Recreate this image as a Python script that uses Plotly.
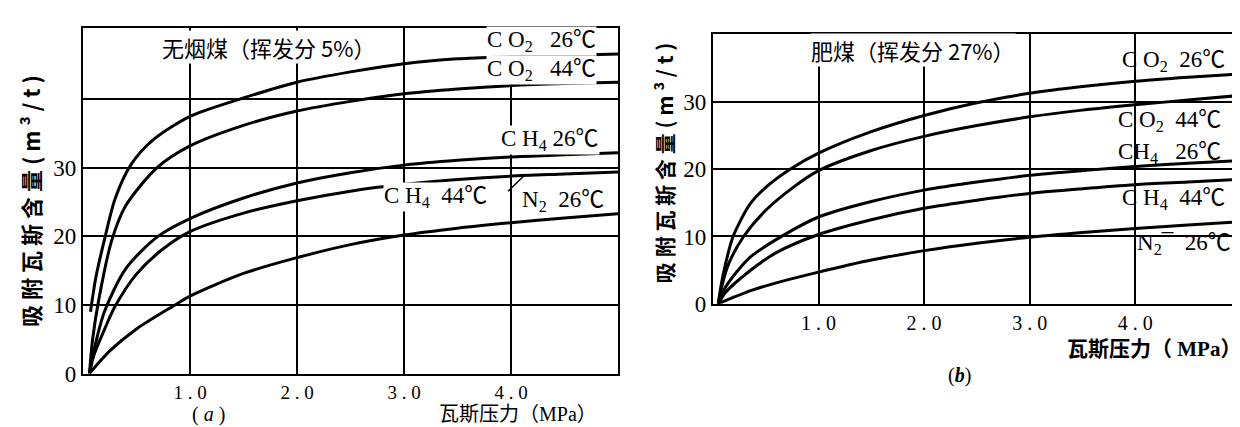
import plotly.graph_objects as go

W, H = 1240, 427

# ---------------- data: panel (a) 无烟煤 ----------------
a_co2_26_p = [0.07, 0.12, 0.2, 0.3, 0.45, 0.65, 1.0, 1.5, 2.0, 2.5, 3.0, 3.5, 4.0, 4.5, 5.0]
a_co2_26_v = [9.0, 14.0, 19.5, 25.5, 30.5, 34.0, 37.5, 40.2, 42.5, 44.0, 45.2, 45.9, 46.2, 46.4, 46.6]

a_co2_44_p = [0.06, 0.09, 0.15, 0.27, 0.4, 0.69, 1.0, 1.5, 2.0, 2.5, 3.0, 3.5, 4.0, 4.5, 5.0]
a_co2_44_v = [0.0, 5.0, 11.0, 19.5, 24.5, 30.0, 33.2, 36.2, 38.3, 39.7, 40.8, 41.5, 42.0, 42.3, 42.5]

a_ch4_26_p = [0.06, 0.1, 0.2, 0.4, 0.7, 1.0, 1.5, 2.0, 2.5, 3.0, 3.5, 4.0, 4.5, 5.0]
a_ch4_26_v = [0.0, 3.2, 9.0, 15.3, 20.0, 22.6, 25.6, 27.8, 29.3, 30.4, 31.1, 31.6, 31.9, 32.2]

a_ch4_44_p = [0.06, 0.1, 0.2, 0.3, 0.5, 0.75, 1.0, 1.5, 2.0, 2.5, 3.0, 3.5, 4.0, 4.5, 5.0]
a_ch4_44_v = [0.0, 2.6, 6.4, 9.8, 14.5, 18.2, 20.7, 23.4, 25.2, 26.6, 27.6, 28.3, 28.8, 29.1, 29.4]

a_n2_26_p = [0.06, 0.25, 0.5, 0.86, 1.0, 1.5, 2.0, 2.5, 3.0, 3.5, 4.0, 4.5, 5.0]
a_n2_26_v = [0.0, 3.3, 6.5, 10.0, 11.3, 14.6, 16.9, 18.8, 20.2, 21.2, 22.0, 22.7, 23.3]

# ---------------- data: panel (b) 肥煤 ----------------
b_co2_26_p = [0.05, 0.08, 0.12, 0.19, 0.35, 0.5, 0.73, 1.0, 1.5, 2.0, 2.5, 3.0, 3.5, 4.0, 4.5, 5.0]
b_co2_26_v = [0.0, 3.0, 6.0, 10.0, 14.8, 17.3, 20.0, 22.4, 25.6, 28.0, 29.9, 31.3, 32.3, 33.1, 33.7, 34.2]

b_co2_44_p = [0.05, 0.09, 0.15, 0.29, 0.5, 0.75, 1.0, 1.5, 2.0, 2.5, 3.0, 3.5, 4.0, 4.5, 5.0]
b_co2_44_v = [0.0, 3.0, 6.0, 10.0, 13.9, 17.2, 19.8, 22.8, 24.9, 26.5, 27.8, 28.8, 29.6, 30.3, 31.0]

b_ch4_26_p = [0.05, 0.12, 0.35, 0.67, 1.0, 1.5, 2.0, 2.5, 3.0, 3.5, 4.0, 4.5, 5.0]
b_ch4_26_v = [0.0, 2.5, 6.9, 10.2, 12.9, 15.2, 16.9, 18.1, 19.1, 19.8, 20.4, 20.9, 21.3]

b_ch4_44_p = [0.05, 0.12, 0.35, 0.6, 1.0, 1.5, 2.0, 2.5, 3.0, 3.5, 4.0, 4.5, 5.0]
b_ch4_44_v = [0.0, 1.7, 4.9, 7.6, 10.3, 12.5, 14.2, 15.4, 16.4, 17.1, 17.7, 18.1, 18.5]

b_n2_26_p = [0.05, 0.35, 0.6, 1.0, 1.5, 2.0, 2.5, 3.0, 3.5, 4.0, 4.5, 5.0]
b_n2_26_v = [0.0, 1.9, 3.1, 4.7, 6.5, 7.9, 9.0, 9.9, 10.6, 11.2, 11.7, 12.2]

x_tickvals = [1, 2, 3, 4]
x_ticktext = ["1 . 0", "2 . 0", "3 . 0", "4 . 0"]
a_y_tickvals = [0, 10, 20, 30, 40]
a_y_ticktext = ["0", "10", "20", "30", ""]
b_y_tickvals = [0, 10, 20, 30]
b_y_ticktext = ["0", "10", "20", "30"]

SERIF = "Liberation Serif, Noto Sans CJK SC, serif"
CJK = "Noto Sans CJK SC, Liberation Serif, sans-serif"


def px(x):
    return x / W


def py(y):
    return 1 - y / H


fig = go.Figure()

panel_a = [(a_co2_26_p, a_co2_26_v), (a_co2_44_p, a_co2_44_v), (a_ch4_26_p, a_ch4_26_v),
           (a_ch4_44_p, a_ch4_44_v), (a_n2_26_p, a_n2_26_v)]
panel_b = [(b_co2_26_p, b_co2_26_v), (b_co2_44_p, b_co2_44_v), (b_ch4_26_p, b_ch4_26_v),
           (b_ch4_44_p, b_ch4_44_v), (b_n2_26_p, b_n2_26_v)]

for p, v in panel_a:
    fig.add_trace(go.Scatter(x=p, y=v, mode="lines", xaxis="x", yaxis="y",
                             line=dict(color="black", width=3, shape="spline", smoothing=0.8),
                             showlegend=False, hoverinfo="skip"))
for p, v in panel_b:
    fig.add_trace(go.Scatter(x=p, y=v, mode="lines", xaxis="x2", yaxis="y2",
                             line=dict(color="black", width=3, shape="spline", smoothing=0.8),
                             showlegend=False, hoverinfo="skip"))

axis_common = dict(showgrid=True, gridcolor="black", gridwidth=1.6, showline=True, mirror=True,
                   linecolor="black", linewidth=2.4, ticks="", zeroline=False, fixedrange=True)

fig.update_layout(
    width=W, height=H,
    margin=dict(l=0, r=0, t=0, b=0),
    paper_bgcolor="white", plot_bgcolor="white",
    xaxis=dict(domain=[px(75), px(610)], range=[0, 5.0], anchor="y",
               tickvals=x_tickvals, ticktext=x_ticktext,
               tickfont=dict(family=SERIF, size=19, color="black"), **axis_common),
    yaxis=dict(domain=[py(377), py(21)], range=[0, 50.35], anchor="x",
               tickvals=a_y_tickvals, ticktext=a_y_ticktext,
               tickfont=dict(family=SERIF, size=23, color="black"), **axis_common),
    xaxis2=dict(domain=[px(705), px(1237)], range=[0, 5.04], anchor="y2",
                tickvals=x_tickvals, ticktext=x_ticktext,
                tickfont=dict(family=SERIF, size=20, color="black"), **axis_common),
    yaxis2=dict(domain=[py(305), py(27)], range=[0, 40.1], anchor="x2",
                tickvals=b_y_tickvals, ticktext=b_y_ticktext,
                tickfont=dict(family=SERIF, size=23, color="black"), **axis_common),
)

ann = []


def add(text, x, y, size=20, xanchor="center", family=SERIF, bg=None, angle=0):
    d = dict(text=text, x=px(x), y=py(y), xref="paper", yref="paper", showarrow=False,
             xanchor=xanchor, yanchor="middle", textangle=angle,
             font=dict(family=family, size=size, color="black"))
    if bg:
        d["bgcolor"] = bg
        d["borderpad"] = 0
    ann.append(d)


# panel (a) texts
add("无烟煤（挥发分 5%）", 260, 40, size=22, family=CJK, bg="white")
add("C O<sub>2</sub>   26℃", 478, 34, size=23, xanchor="left", bg="white")
add("C O<sub>2</sub>   44℃", 478, 64, size=23, xanchor="left", bg="white")
add("C H<sub>4</sub> 26℃", 492, 136, size=23, xanchor="left", bg="white")
add("C H<sub>4</sub>  44℃", 375, 195, size=23, xanchor="left", bg="white")
add("N<sub>2</sub>  26℃", 512, 199, size=23, xanchor="left")
add("( <i>a</i> )", 200, 419, size=20)
add("瓦斯压力（MPa）", 510, 419, size=20, family=SERIF)
add("<b>吸 附 瓦 斯 含 量 ( m ³ / t )</b>", 22, 199, size=22, family=CJK, angle=-90)

# panel (b) texts
add("肥煤（挥发分 27%）", 905, 43, size=22, family=CJK, bg="white")
add("C O<sub>2</sub>  26℃", 1112, 55, size=23, xanchor="left")
add("C O<sub>2</sub>  44℃", 1108, 117, size=23, xanchor="left")
add("CH<sub>4</sub>   26℃", 1108, 150, size=23, xanchor="left")
add("C H<sub>4</sub>  44℃", 1112, 197, size=23, xanchor="left")
add("N<sub>2</sub>¯  26℃", 1127, 243, size=23, xanchor="left")
add("(<b><i>b</i></b>)", 951, 379, size=20)
add("<b>瓦斯压力（ MPa）</b>", 1146, 352, size=21, family=SERIF)
add("<b>吸 附 瓦 斯 含 量 ( m ³ / t )</b>", 656, 160, size=21, family=CJK, angle=-90)

fig.update_layout(annotations=ann)

# leader line for CH4 44 label in panel (a)
fig.add_shape(type="line", xref="paper", yref="paper",
              x0=px(500), y0=py(189), x1=px(516), y1=py(173),
              line=dict(color="black", width=1.5))

fig.write_html("out.html")
